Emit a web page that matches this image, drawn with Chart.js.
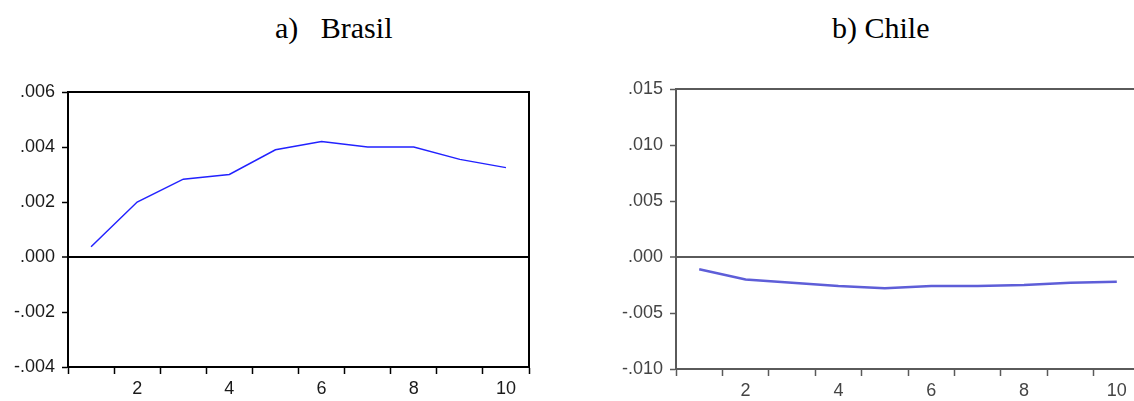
<!DOCTYPE html>
<html>
<head>
<meta charset="utf-8">
<script src="https://cdn.jsdelivr.net/npm/chart.js@4/dist/chart.umd.min.js"></script>
<style>
  html, body { margin: 0; padding: 0; background: #fff; overflow: hidden; width: 1134px; height: 401px; }
  .title { position: absolute; font-family: "Liberation Serif", "Times New Roman", serif; font-size: 30px; line-height: 30px; color: #000; white-space: pre; }
  .box { position: absolute; top: 0; height: 401px; }
</style>
</head>
<body>
<div class="title" style="left:275px; top:13px;">a)   Brasil</div>
<div class="title" style="left:832px; top:13px;">b) Chile</div>
<div class="box" style="left:0px; width:560px;"><canvas id="c1"></canvas></div>
<div class="box" style="left:580px; width:580px;"><canvas id="c2"></canvas></div>
<script>
const periods = ['1','2','3','4','5','6','7','8','9','10'];
const brasilValues = [0.00037, 0.0020, 0.00283, 0.0030, 0.0039, 0.0042, 0.0040, 0.0040, 0.00355, 0.00325];
const chileValues = [-0.0011, -0.0020, -0.0023, -0.0026, -0.0028, -0.0026, -0.0026, -0.0025, -0.0023, -0.0022];
const brasilTicks = { min: -0.004, max: 0.006, step: 0.002 };
const chileTicks = { min: -0.010, max: 0.015, step: 0.005 };

function fmt(v) {
  const r = Math.round(v * 1000) / 1000;
  let s = Math.abs(r).toFixed(3).replace(/^0/, '');
  return (r < 0 ? '-' : '') + s;
}

const framePlugin = {
  id: 'frame',
  afterDatasetsDraw(chart, args, opts) {
    const a = chart.chartArea, ctx = chart.ctx;
    ctx.save();
    ctx.strokeStyle = opts.color;
    ctx.lineWidth = opts.width;
    ctx.strokeRect(a.left, a.top, a.right - a.left, a.bottom - a.top);
    ctx.restore();
  }
};

function makeChart(id, values, t, cfg) {
  return new Chart(document.getElementById(id), {
    type: 'line',
    data: {
      labels: periods,
      datasets: [{
        data: values,
        borderColor: cfg.lineColor,
        borderWidth: cfg.lineWidth,
        pointRadius: 0,
        tension: 0,
        fill: false
      }]
    },
    plugins: [framePlugin],
    options: {
      responsive: true,
      maintainAspectRatio: false,
      animation: false,
      events: [],
      layout: { padding: { top: cfg.top, right: cfg.right, bottom: 0, left: 0 } },
      plugins: {
        legend: { display: false },
        tooltip: { enabled: false },
        title: { display: false },
        frame: { color: cfg.axisColor, width: cfg.frameWidth }
      },
      scales: {
        x: {
          type: 'category',
          offset: true,
          afterFit(s) { s.height = cfg.xHeight; },
          border: { display: true, color: cfg.axisColor, width: cfg.frameWidth },
          grid: { offset: true, drawOnChartArea: false, drawTicks: true, tickLength: 7, color: cfg.axisColor, tickColor: cfg.axisColor, tickWidth: 1.5 },
          ticks: {
            autoSkip: false,
            maxRotation: 0,
            padding: 4,
            color: cfg.textColor,
            font: { family: '"Liberation Sans", Arial, sans-serif', size: 18 },
            callback(v, i) { const l = periods[i]; return (Number(l) % 2 === 0) ? l : ''; }
          }
        },
        y: {
          min: t.min,
          max: t.max,
          afterFit(s) { s.width = cfg.yWidth; },
          border: { display: true, color: cfg.axisColor, width: cfg.frameWidth },
          grid: {
            drawOnChartArea: true,
            tickLength: 6,
            tickColor: cfg.axisColor,
            tickWidth: 1.5,
            color(c) { return (c.tick && Math.abs(c.tick.value) < 1e-9) ? cfg.axisColor : 'rgba(0,0,0,0)'; },
            lineWidth(c) { return (c.tick && Math.abs(c.tick.value) < 1e-9) ? cfg.frameWidth : 1; }
          },
          ticks: {
            stepSize: t.step,
            padding: 7,
            color: cfg.textColor,
            font: { family: '"Liberation Sans", Arial, sans-serif', size: 18 },
            callback(v) { return fmt(v); }
          }
        }
      }
    }
  });
}

makeChart('c1', brasilValues, brasilTicks, {
  lineColor: '#2222ff', lineWidth: 1.5, axisColor: '#000000', textColor: '#1a1a1a',
  frameWidth: 2, top: 92, right: 31, xHeight: 34, yWidth: 68
});
makeChart('c2', chileValues, chileTicks, {
  lineColor: '#5e5ed8', lineWidth: 2.5, axisColor: '#5a5a5a', textColor: '#444444',
  frameWidth: 2, top: 89, right: 20, xHeight: 32, yWidth: 96
});
</script>
</body>
</html>
